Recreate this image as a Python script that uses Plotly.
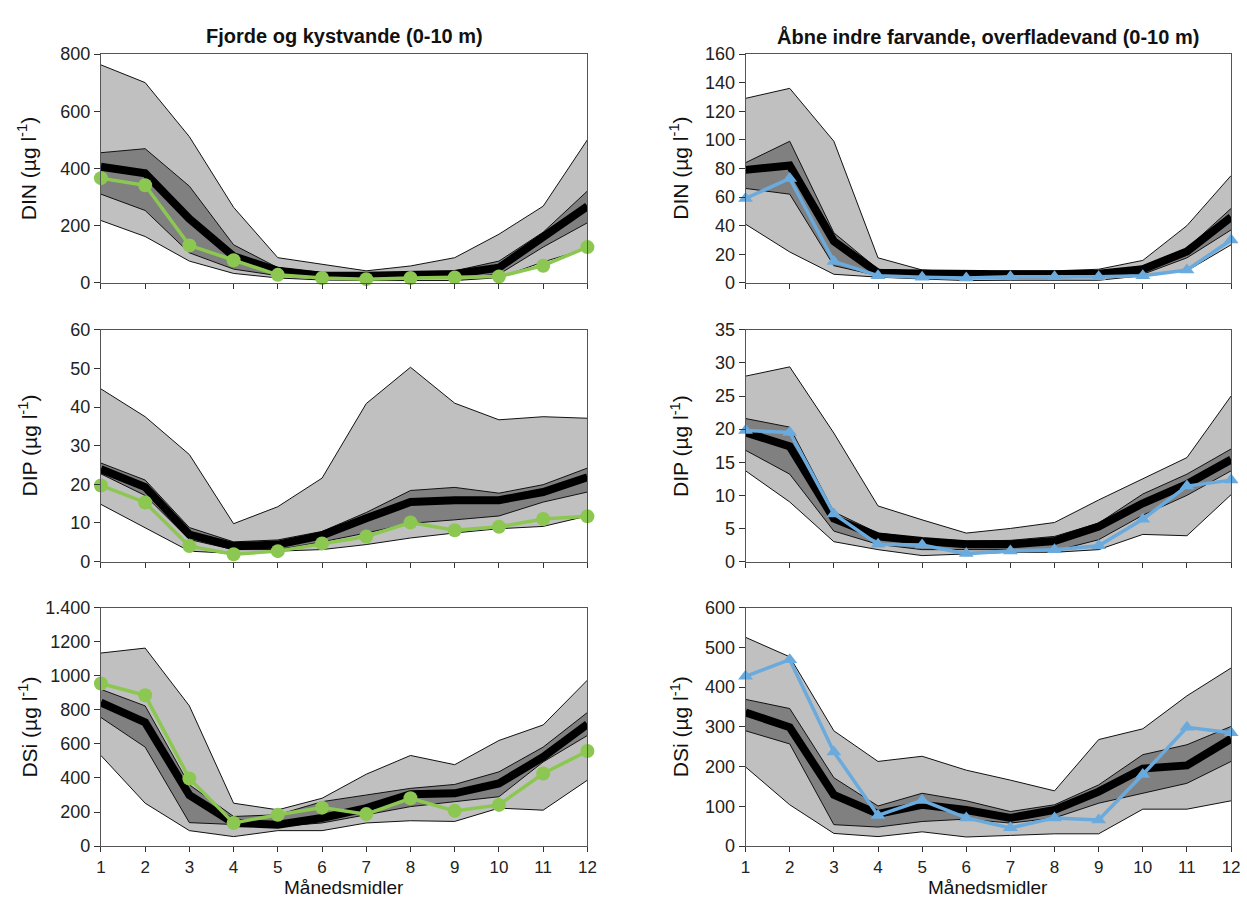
import plotly.graph_objects as go
from plotly.subplots import make_subplots

months = [1, 2, 3, 4, 5, 6, 7, 8, 9, 10, 11, 12]

# ---- DIN, Fjorde og kystvande ----
din_fj_p95 = [762, 700, 511, 264, 88, 65, 42, 59, 88, 170, 268, 500]
din_fj_p75 = [455, 469, 338, 133, 53, 36, 31, 33, 42, 76, 177, 321]
din_fj_med = [406, 383, 224, 93, 42, 25, 25, 25, 31, 53, 157, 268]
din_fj_p25 = [310, 253, 105, 48, 25, 15, 14, 15, 17, 30, 125, 210]
din_fj_p05 = [218, 162, 76, 33, 17, 10, 8, 8, 8, 18, 73, 120]
din_fj_cur = [366, 341, 131, 79, 28, 17, 13, 17, 19, 22, 60, 125]

# ---- DIN, Åbne indre farvande ----
din_op_p95 = [129, 136, 99, 17.5, 9, 7.3, 8.4, 8.4, 9.5, 15.7, 40, 75]
din_op_p75 = [84, 99, 35, 9.5, 8, 6.5, 7, 7, 7.5, 11.8, 24, 52]
din_op_med = [79, 82, 29, 7, 6.6, 5.7, 6, 6, 6.3, 9.5, 22, 46]
din_op_p25 = [66, 62, 12, 5, 4, 3.5, 3.8, 3.8, 4, 6, 17.5, 37]
din_op_p05 = [41, 21.6, 6, 4, 2.7, 1.6, 1.8, 1.8, 1.8, 5, 8.4, 26.6]
din_op_cur = [59, 73, 15, 5, 3.9, 3.4, 4.3, 4.3, 4.3, 5, 9, 30]

# ---- DIP, Fjorde og kystvande ----
dip_fj_p95 = [44.7, 37.5, 27.7, 9.8, 14.2, 21.6, 40.9, 50.3, 41, 36.7, 37.5, 37.1]
dip_fj_p75 = [25.5, 21.1, 8.8, 5.1, 5.6, 7.8, 12.7, 18.4, 19.2, 17.7, 19.9, 24.2]
dip_fj_med = [23.9, 19.3, 7, 4, 4.4, 6.8, 11.2, 15.4, 15.9, 15.9, 18, 21.8]
dip_fj_p25 = [22.7, 17.1, 5.7, 3.1, 3.1, 5.1, 7.4, 9.9, 10.8, 11.8, 15.4, 18]
dip_fj_p05 = [14.8, 8.7, 2.7, 2.1, 2.7, 3.1, 4.4, 6.1, 7.4, 8.5, 9.1, 11.8]
dip_fj_cur = [19.7, 15.3, 4, 1.9, 2.7, 4.7, 6.5, 10.1, 8.1, 9, 11, 11.7]

# ---- DIP, Åbne indre farvande ----
dip_op_p95 = [28, 29.4, 19.4, 8.4, 6.3, 4.3, 5, 5.9, 9.3, 12.5, 15.7, 25]
dip_op_p75 = [21.6, 20.3, 7.5, 4.3, 3.5, 3.1, 3.2, 3.8, 5.8, 10.2, 13.2, 17]
dip_op_med = [19.5, 17.4, 6.5, 3.8, 3.1, 2.6, 2.6, 3.1, 5.3, 8.8, 11.7, 15.4]
dip_op_p25 = [16.8, 13.2, 4.6, 2.6, 1.8, 1.8, 1.8, 1.6, 3.3, 7, 10, 13.7]
dip_op_p05 = [13.7, 9, 3, 1.8, 0.9, 1.2, 1.4, 1.4, 1.8, 4.1, 3.9, 10.1]
dip_op_cur = [19.8, 19.5, 7.2, 2.6, 2.5, 1.2, 1.6, 1.8, 2.4, 6.4, 11.4, 12.3]

# ---- DSi, Fjorde og kystvande ----
dsi_fj_p95 = [1133, 1162, 823, 252, 213, 281, 422, 532, 478, 620, 711, 974]
dsi_fj_p75 = [920, 823, 360, 174, 184, 261, 300, 339, 362, 436, 581, 784]
dsi_fj_med = [842, 726, 300, 136, 126, 165, 223, 304, 310, 368, 523, 716]
dsi_fj_p25 = [755, 581, 138, 125, 116, 136, 184, 232, 261, 290, 494, 649]
dsi_fj_p05 = [532, 252, 91, 56, 91, 91, 136, 149, 145, 223, 211, 387]
dsi_fj_cur = [954, 885, 397, 136, 184, 226, 188, 281, 207, 242, 426, 558]

# ---- DSi, Åbne indre farvande ----
dsi_op_p95 = [525, 476, 290, 213, 226, 191, 166, 139, 268, 295, 378, 448]
dsi_op_p75 = [369, 346, 172, 101, 133, 114, 87, 104, 154, 230, 255, 301]
dsi_op_med = [336, 299, 129, 81, 104, 91, 71, 91, 137, 195, 203, 270]
dsi_op_p25 = [290, 257, 54, 48, 62, 68, 58, 71, 108, 133, 158, 213]
dsi_op_p05 = [199, 104, 32, 24, 36, 23, 27, 31, 31, 93, 93, 114]
dsi_op_cur = [427, 469, 237, 77, 115, 71, 46, 71, 66, 180, 299, 285]

titles = ["Fjorde og kystvande (0-10 m)", "Åbne indre farvande, overfladevand (0-10 m)"]
ytitles = ["DIN (µg l<sup>-1</sup>)", "DIP (µg l<sup>-1</sup>)", "DSi (µg l<sup>-1</sup>)"]
xtitle = "Månedsmidler"

panels = [
    (1, 1, din_fj_p05, din_fj_p25, din_fj_med, din_fj_p75, din_fj_p95, din_fj_cur, "fj"),
    (1, 2, din_op_p05, din_op_p25, din_op_med, din_op_p75, din_op_p95, din_op_cur, "op"),
    (2, 1, dip_fj_p05, dip_fj_p25, dip_fj_med, dip_fj_p75, dip_fj_p95, dip_fj_cur, "fj"),
    (2, 2, dip_op_p05, dip_op_p25, dip_op_med, dip_op_p75, dip_op_p95, dip_op_cur, "op"),
    (3, 1, dsi_fj_p05, dsi_fj_p25, dsi_fj_med, dsi_fj_p75, dsi_fj_p95, dsi_fj_cur, "fj"),
    (3, 2, dsi_op_p05, dsi_op_p25, dsi_op_med, dsi_op_p75, dsi_op_p95, dsi_op_cur, "op"),
]

yaxes_cfg = {
    (1, 1): dict(range=[0, 800], tickvals=[0, 200, 400, 600, 800], ticktext=["0", "200", "400", "600", "800"]),
    (1, 2): dict(range=[0, 160], tickvals=list(range(0, 161, 20)), ticktext=[str(v) for v in range(0, 161, 20)]),
    (2, 1): dict(range=[0, 60], tickvals=list(range(0, 61, 10)), ticktext=[str(v) for v in range(0, 61, 10)]),
    (2, 2): dict(range=[0, 35], tickvals=list(range(0, 36, 5)), ticktext=[str(v) for v in range(0, 36, 5)]),
    (3, 1): dict(range=[0, 1400], tickvals=list(range(0, 1401, 200)),
                 ticktext=["0", "200", "400", "600", "800", "1000", "1200", "1.400"]),
    (3, 2): dict(range=[0, 600], tickvals=list(range(0, 601, 100)), ticktext=[str(v) for v in range(0, 601, 100)]),
}

W, H = 1247, 907
xdom = {1: [97 / W, 589 / W], 2: [749 / W, 1240 / W]}
ydom = {1: [1 - 279 / H, 1 - 45 / H], 2: [1 - 564 / H, 1 - 327 / H], 3: [1 - 855 / H, 1 - 611 / H]}

fig = make_subplots(rows=3, cols=2)

LIGHT = "#C0C0C0"
DARK = "#808080"
GREEN = "#8CC751"
BLUE = "#6AAADC"
FONT = "Liberation Sans"

for r, c, p05, p25, med, p75, p95, cur, kind in panels:
    edge = dict(color="#111111", width=1)
    fig.add_trace(go.Scatter(x=months, y=p05, mode="lines", line=edge, showlegend=False, hoverinfo="skip"), row=r, col=c)
    fig.add_trace(go.Scatter(x=months, y=p95, mode="lines", line=edge, fill="tonexty", fillcolor=LIGHT,
                             showlegend=False, hoverinfo="skip"), row=r, col=c)
    fig.add_trace(go.Scatter(x=months, y=p25, mode="lines", line=edge, showlegend=False, hoverinfo="skip"), row=r, col=c)
    fig.add_trace(go.Scatter(x=months, y=p75, mode="lines", line=edge, fill="tonexty", fillcolor=DARK,
                             showlegend=False, hoverinfo="skip"), row=r, col=c)
    fig.add_trace(go.Scatter(x=months, y=med, mode="lines", line=dict(color="black", width=8),
                             showlegend=False), row=r, col=c)
    if kind == "fj":
        fig.add_trace(go.Scatter(x=months, y=cur, mode="lines+markers", line=dict(color=GREEN, width=3.5),
                                 marker=dict(symbol="circle", size=14, color=GREEN),
                                 cliponaxis=False, showlegend=False), row=r, col=c)
    else:
        fig.add_trace(go.Scatter(x=months, y=cur, mode="lines+markers", line=dict(color=BLUE, width=3.5),
                                 marker=dict(symbol="triangle-up", size=13, color=BLUE),
                                 cliponaxis=False, showlegend=False), row=r, col=c)

    fig.update_xaxes(row=r, col=c, domain=xdom[c], range=[1, 12], tickvals=months,
                     ticktext=[str(m) for m in months], showticklabels=(r == 3),
                     ticks="outside", ticklen=5, tickcolor="#333", showline=True, linecolor="#555",
                     linewidth=1, mirror=True, showgrid=False, zeroline=False,
                     tickfont=dict(family=FONT, size=17, color="#222"))
    cfg = yaxes_cfg[(r, c)]
    fig.update_yaxes(row=r, col=c, domain=ydom[r], range=cfg["range"], tickvals=cfg["tickvals"],
                     ticktext=cfg["ticktext"], ticks="outside", ticklen=6, tickcolor="#333",
                     showline=True, linecolor="#555", linewidth=1, mirror=True, showgrid=False,
                     zeroline=False, tickfont=dict(family=FONT, size=18, color="#222"))

annotations = []
for c, t in zip([1, 2], titles):
    annotations.append(dict(text="<b>" + t + "</b>", x=sum(xdom[c]) / 2, y=1 - 27 / H, xref="paper", yref="paper",
                            showarrow=False, font=dict(family=FONT, size=20, color="#111"),
                            xanchor="center", yanchor="middle"))
for r, yt in zip([1, 2, 3], ytitles):
    for c, xp in zip([1, 2], [23, 682]):
        annotations.append(dict(text=yt, x=xp / W, y=sum(ydom[r]) / 2, xref="paper", yref="paper",
                                showarrow=False, textangle=-90,
                                font=dict(family=FONT, size=21, color="#111"),
                                xanchor="center", yanchor="middle"))
for c in [1, 2]:
    annotations.append(dict(text=xtitle, x=sum(xdom[c]) / 2, y=1 - 897 / H, xref="paper", yref="paper",
                            showarrow=False, font=dict(family=FONT, size=19, color="#111"),
                            xanchor="center", yanchor="middle"))

fig.update_layout(width=W, height=H, margin=dict(l=0, r=0, t=0, b=0), paper_bgcolor="white",
                  plot_bgcolor="white", annotations=annotations, showlegend=False)

fig.write_html("out.html")
